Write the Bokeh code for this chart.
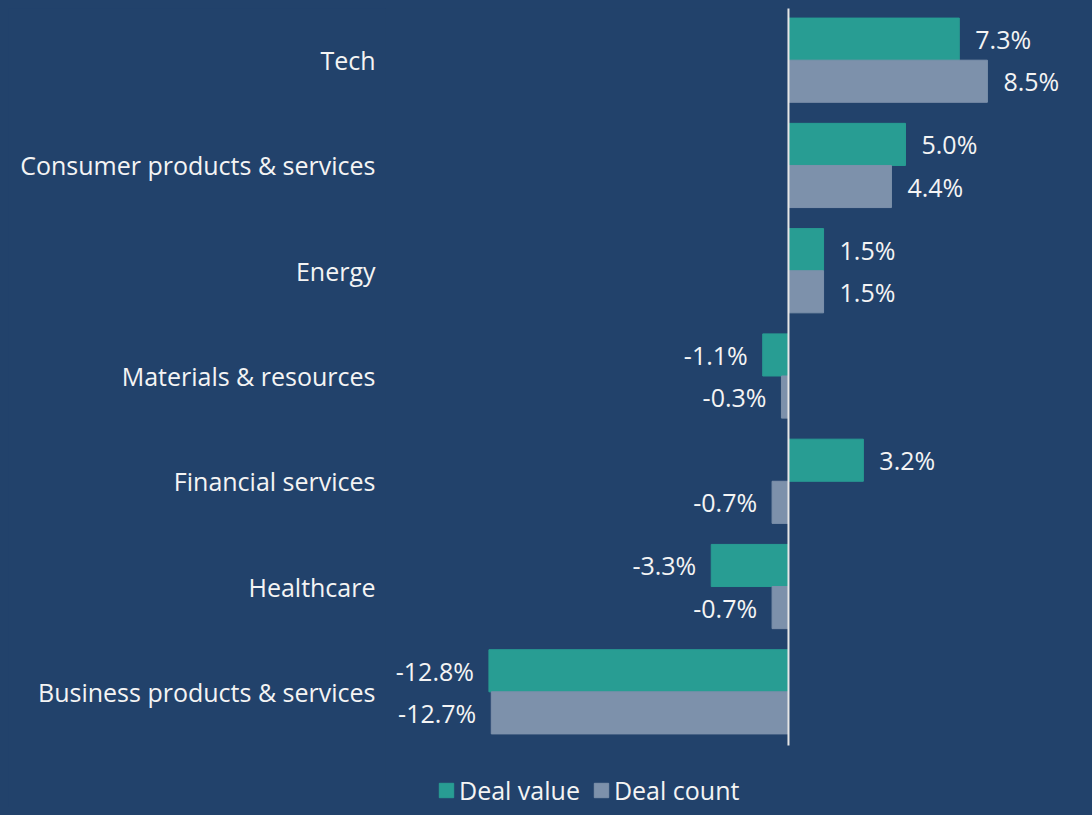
from bokeh.plotting import figure
from bokeh.models import ColumnDataSource, Range1d, FixedTicker, Legend, LegendItem
from bokeh.transform import dodge
from bokeh.core.properties import value
from bokeh.embed import file_html
from bokeh.resources import INLINE
from jinja2 import Template

categories = ["Tech", "Consumer products & services", "Energy", "Materials & resources",
              "Financial services", "Healthcare", "Business products & services"]
deal_value = [7.3, 5.0, 1.5, -1.1, 3.2, -3.3, -12.8]
deal_count = [8.5, 4.4, 1.5, -0.3, -0.7, -0.7, -12.7]
series_names = ["Deal value", "Deal count"]

BG = "#22426B"
TEAL = "#289D93"
GREY = "#7D91AB"
TXT = "#F4F4F4"
FONT = "Open Sans"

n = len(categories)
centers = [n - 1 - i + 0.5 for i in range(n)]  # top-to-bottom slots on the category axis

def make_source(vals):
    return ColumnDataSource(dict(
        cat=categories, pos=centers, val=vals,
        text=[f"{v:.1f}%" for v in vals],
        xoff=[16 if v >= 0 else -15 for v in vals],
        align=["left" if v >= 0 else "right" for v in vals],
    ))

src_v = make_source(deal_value)
src_c = make_source(deal_count)

p = figure(width=1076, height=799, output_backend="svg", toolbar_location=None,
           y_range=Range1d(-0.599, n - 0.009), x_range=Range1d(-17.22, 12.65),
           x_axis_location=None,
           min_border_left=377, min_border_right=0, min_border_top=0, min_border_bottom=0)
p.background_fill_color = BG
p.border_fill_color = BG
p.outline_line_color = None
p.grid.visible = False

r1 = p.hbar(y=dodge("pos", 0.2), right="val", left=0, height=0.4,
            source=src_v, fill_color=TEAL, line_color=TEAL)
r2 = p.hbar(y=dodge("pos", -0.2), right="val", left=0, height=0.4,
            source=src_c, fill_color=GREY, line_color=GREY)

for src, off in ((src_v, 0.2), (src_c, -0.2)):
    p.text(x="val", y=dodge("pos", off), text="text", x_offset="xoff",
           text_align="align", text_baseline="middle", source=src,
           text_font=value(FONT), text_font_size="25px", text_color=TXT)

# zero line spanning the category slots
p.segment(x0=[0], y0=[-0.01], x1=[0], y1=[n], line_color="#E6E6E6", line_width=2)

ax = p.yaxis[0]
ax.ticker = FixedTicker(ticks=centers)
ax.major_label_overrides = {c: name for c, name in zip(centers, categories)}
ax.axis_line_color = None
ax.major_tick_line_color = None
ax.minor_tick_line_color = None
ax.major_tick_out = 0
ax.major_label_standoff = 10
ax.major_label_text_font = FONT
ax.major_label_text_font_size = "25px"
ax.major_label_text_color = TXT

legend = Legend(items=[LegendItem(label=series_names[0], renderers=[r1]),
                       LegendItem(label=series_names[1], renderers=[r2])],
                orientation="horizontal", location=(52, 0),
                label_text_font=FONT, label_text_font_size="25px", label_text_color=TXT,
                glyph_width=18, glyph_height=18, label_standoff=4, spacing=12,
                padding=0, margin=0, background_fill_alpha=0, border_line_color=None)
p.add_layout(legend)

tmpl = Template("""<!DOCTYPE html>
<html lang="en">
<head>
<meta charset="utf-8">
<title>{{ title }}</title>
<style>body { background-color: #22426B; }</style>
{{ bokeh_css }}
{{ bokeh_js }}
</head>
<body>
{{ plot_div | safe }}
{{ plot_script | safe }}
</body>
</html>""")

open("out.html", "w").write(file_html(p, INLINE, template=tmpl))
